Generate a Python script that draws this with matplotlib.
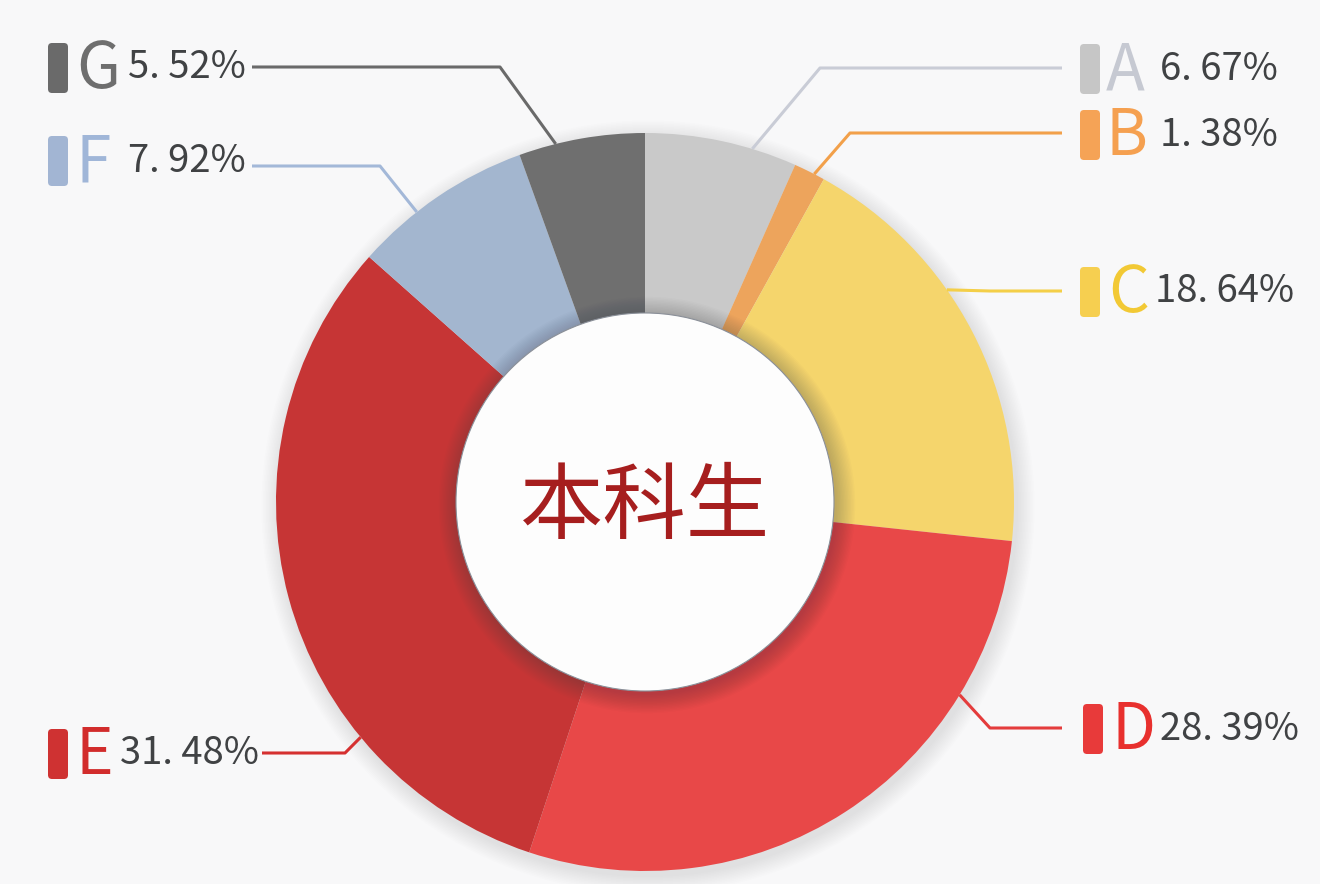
import matplotlib
matplotlib.use("Agg")
import matplotlib.pyplot as plt
from matplotlib.patches import FancyBboxPatch, Circle
import numpy as np

# ---------------- data ----------------
categories = ["A", "B", "C", "D", "E", "F", "G"]
values = [6.67, 1.38, 18.64, 28.39, 31.48, 7.92, 5.52]
center_label = "本科生"

slice_colors = ["#c9c9c9", "#eda45c", "#f5d56c", "#e84848", "#c63535", "#a3b6cf", "#6f6f6f"]
marker_colors = ["#c6c6c6", "#f5a356", "#f6cf50", "#e83a3a", "#cf3232", "#a2b5d3", "#6a6a6a"]
letter_colors = ["#c6c9d2", "#f5a050", "#f2c935", "#e8302e", "#d22c2c", "#a0b6d8", "#6e6e6e"]
line_colors = ["#c9ccd6", "#f2a04a", "#f4cf48", "#e43c3c", "#d53030", "#a3b8d8", "#6a6a6a"]

# ---------------- layout (pixels, y from top) ----------------
W, H = 1320, 884
CX, CY = 645, 502
R_OUT, R_IN = 369, 189
anchor_ang = [16.9, 27.3, 54.9, 121.5, 230.4, 321.8, 346.0]
elbows = [(820, 68), (850, 133), (990, 291), (990, 728), (345, 753), (380, 166), (500, 67)]
ends = [(1062, 68), (1062, 133), (1062, 291), (1062, 728), (262, 753), (252, 166), (252, 67)]
marker_xy = [(1080, 69), (1080, 135), (1080, 292), (1083, 729), (48, 754), (48, 161), (48, 68)]
letter_x = [1106, 1106, 1108, 1111, 76, 76, 76]
pct_x = [1160, 1160, 1155, 1160, 120, 128, 128]

FONT = ["Noto Sans CJK SC", "DejaVu Sans"]


def Y(y):
    return H - y


fig = plt.figure(figsize=(W / 100, H / 100), dpi=100)
fig.patch.set_facecolor("#f8f8f9")
ax = fig.add_axes([0, 0, 1, 1])
ax.set_xlim(0, W)
ax.set_ylim(0, H)
ax.set_aspect("equal")
ax.axis("off")

# soft drop shadow behind the ring
for i in range(12):
    ax.add_patch(Circle((CX + 3, Y(CY) - 5), R_OUT + 1 + i * 1.5, facecolor="#808088",
                        edgecolor="none", alpha=0.014, zorder=1))

wedges, _ = ax.pie(values, colors=slice_colors, startangle=90, counterclock=False,
                   center=(CX, Y(CY)), radius=R_OUT,
                   wedgeprops=dict(width=R_OUT - R_IN, edgecolor="none", linewidth=0),
                   frame=False)
for w in wedges:
    w.set_zorder(2)
ax.set_xlim(0, W)
ax.set_ylim(0, H)

# shadow of the inner white disc falling onto the ring
for i in range(14):
    ax.add_patch(Circle((CX + 2, Y(CY) - 3), R_IN + 1 + i * 1.4, facecolor="#303540",
                        edgecolor="none", alpha=0.018, zorder=3))
ax.add_patch(Circle((CX, Y(CY)), R_IN, facecolor="#fdfdfd", edgecolor="#8a8f98",
                    linewidth=0.8, zorder=4))

ax.text(CX, Y(CY + 6), center_label, fontsize=60, color="#a61e1e",
        family=FONT, ha="center", va="center", zorder=5)

# leader lines and labels
for i, cat in enumerate(categories):
    a = np.deg2rad(90 - anchor_ang[i])
    sx = CX + R_OUT * np.cos(a)
    sy = Y(CY) + R_OUT * np.sin(a)
    ex, ey = elbows[i]
    tx, ty = ends[i]
    ax.plot([sx, ex, tx], [sy, Y(ey), Y(ty)], color=line_colors[i], lw=2.2,
            solid_capstyle="butt", zorder=4)

    mx, my = marker_xy[i]
    ax.add_patch(FancyBboxPatch((mx, Y(my) - 25), 20, 50,
                                boxstyle="round,pad=0,rounding_size=4",
                                facecolor=marker_colors[i], edgecolor="none", zorder=4))
    ax.text(letter_x[i], Y(my) - 2, cat, fontsize=46, color=letter_colors[i], family=FONT,
            fontweight="light", ha="left", va="center", zorder=4)
    pct = f"{values[i]:.2f}%".replace(".", ". ")
    ax.text(pct_x[i], Y(my), pct, fontsize=27.5, color="#404244", family=FONT,
            ha="left", va="center", zorder=4)

fig.savefig("out.png", dpi=100, facecolor=fig.get_facecolor())
